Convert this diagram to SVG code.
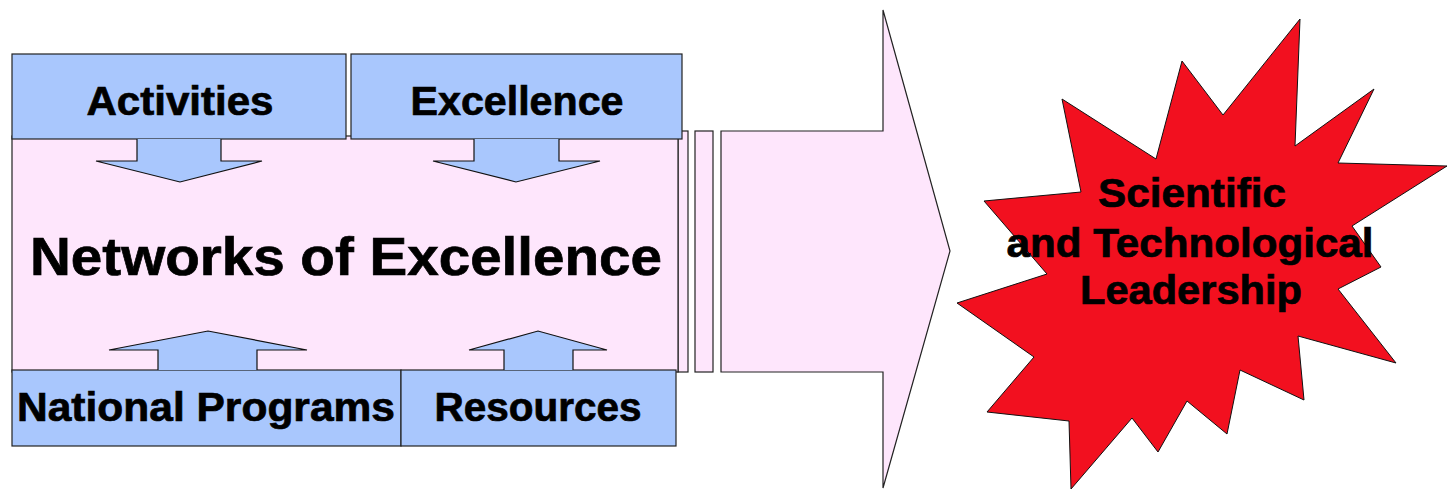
<svg xmlns="http://www.w3.org/2000/svg" width="1447" height="489" viewBox="0 0 1447 489">
<style>
.pink{fill:#fee6fc;stroke:#222;stroke-width:1.2}
.blue{fill:#a9c7fd;stroke:#222;stroke-width:1.2}
.arr{fill:#a9c7fd;stroke:#111;stroke-width:1.2;stroke-linejoin:miter}
.t{font-family:"Liberation Sans",Arial,sans-serif;font-weight:bold;fill:#000;stroke:#000;stroke-width:0.7;text-anchor:middle}
</style>
<rect width="1447" height="489" fill="#fff"/>
<g id="big-arrow">
<rect class="pink" x="678" y="131" width="10" height="241"/>
<rect class="pink" x="695" y="131" width="18" height="241"/>
<polygon class="pink" points="721,131 883,131 883,10 950,251 883,488 883,372 721,372"/>
</g>
<g id="networks">
<rect class="pink" x="12" y="136" width="666" height="236"/>
<text class="t" x="346" y="275" font-size="53" textLength="632" lengthAdjust="spacingAndGlyphs">Networks of Excellence</text>
</g>
<g id="activities">
<rect class="blue" x="12" y="54" width="334" height="85"/>
<text class="t" x="180" y="115" font-size="40" textLength="187" lengthAdjust="spacingAndGlyphs">Activities</text>
</g>
<g id="excellence">
<rect class="blue" x="351" y="54" width="331" height="85"/>
<text class="t" x="517" y="115" font-size="40" textLength="213" lengthAdjust="spacingAndGlyphs">Excellence</text>
</g>
<g id="national-programs">
<rect class="blue" x="12" y="370" width="389" height="76"/>
<text class="t" x="206" y="421" font-size="40" textLength="378" lengthAdjust="spacingAndGlyphs">National Programs</text>
</g>
<g id="resources">
<rect class="blue" x="401" y="370" width="275" height="76"/>
<text class="t" x="538" y="421" font-size="40" textLength="207" lengthAdjust="spacingAndGlyphs">Resources</text>
</g>
<g id="connectors">
<polyline class="arr" points="137,139 137,161 96,161 180,182 262,161 221,161 221,139"/>
<polyline class="arr" points="474,139 474,161 433,161 516,182 600,161 559,161 559,139"/>
<polyline class="arr" points="158,370 158,350 109,350 208,331 307,350 257,350 257,370"/>
<polyline class="arr" points="504,370 504,350 469,350 538,331 607,350 573,350 573,370"/>
</g>
<g id="leadership">
<polygon fill="#f2101f" stroke="#111" stroke-width="1" points="1300,19 1295,146 1374,89 1338,163 1447,166 1352,226 1381,267 1338,289 1396,363 1298,336 1304,400 1240,370 1227,434 1187,401 1158,452 1132,418 1071,489 1069,421 987,412 1034,357 957,303 1047,274 984,201 1081,192 1062,99 1156,159 1182,61 1223,115"/>
<text class="t" x="1192" y="207" font-size="40" textLength="188" lengthAdjust="spacingAndGlyphs">Scientific</text>
<text class="t" x="1190" y="257" font-size="40" textLength="367" lengthAdjust="spacingAndGlyphs">and Technological</text>
<text class="t" x="1191" y="304" font-size="40" textLength="222" lengthAdjust="spacingAndGlyphs">Leadership</text>
</g>
</svg>
